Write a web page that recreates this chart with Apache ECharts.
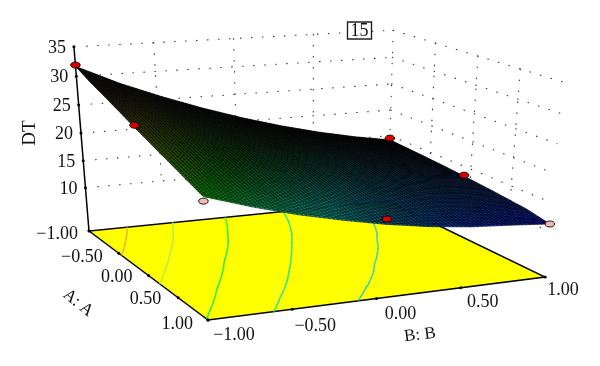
<!DOCTYPE html>
<html><head><meta charset="utf-8">
<style>html,body{margin:0;padding:0;background:#fff}#c{width:600px;height:366px}</style>
<script src="https://cdn.jsdelivr.net/npm/echarts@6/dist/echarts.min.js"></script>
</head><body><div id="c"></div>
<script>
// ---- data ----
const axisA = [-1,-0.75,-0.5,-0.25,0,0.25,0.5,0.75,1];
const axisB = [-1,-0.75,-0.5,-0.25,0,0.25,0.5,0.75,1];
// DT at each A (row) and B (column)
const rowAm100 = [31.70,28.33,25.49,22.92,20.62,18.59,16.84,15.36,14.15];
const rowAm075 = [30.28,27.29,24.57,22.13,19.95,18.05,16.42,15.07,13.98];
const rowAm050 = [29.07,26.20,23.61,21.29,19.24,17.46,15.96,14.73,13.77];
const rowAm025 = [27.82,25.08,22.61,20.42,18.49,16.84,15.46,14.36,13.52];
const rowA000  = [26.53,23.91,21.57,19.50,17.70,16.17,14.92,13.94,13.23];
const rowA025  = [25.30,22.80,20.60,18.65,16.95,15.50,14.34,13.49,12.90];
const rowA050  = [24.10,21.70,19.60,17.75,16.15,14.80,13.71,12.98,12.52];
const rowA075  = [22.90,20.60,18.55,16.80,15.30,14.05,13.05,12.45,12.11];
const rowA100  = [21.70,19.40,17.40,15.75,14.30,13.15,12.34,11.86,11.30];
const dtGrid = [rowAm100,rowAm075,rowAm050,rowAm025,rowA000,rowA025,rowA050,rowA075,rowA100];
const designA  = [-1,0,1,-1,0,1,1];
const designB  = [-1,-1,-1,1,1,1,0];
const designDT = [31.9,26.9,21.0,14.5,13.4,11.3,15.2];
const designAbove = [1,1,0,1,1,0,1];
const contourLevels = [28.5,25.2,21.8,18.5,15.2];
const contourColors = ['#f0a830','#b4ea50','#20e45c','#20dca0','#30c8c8'];
const tickA = [-1,-0.5,0,0.5,1];
const tickB = [-1,-0.5,0,0.5,1];
const tickZ = [10,15,20,25,30,35];
const labelsAB = ['\u22121.00','\u22120.50','0.00','0.50','1.00'];

// ---- view ----
const FONT = '"Liberation Serif"';
const Z0 = 1.8, K = -0.00195, VX = 307, VY = 2892;
function project(A,B,z){
  const u=(A+1)/2, v=(B+1)/2, kd=K*(z-Z0);
  const W=1-0.1523*u+0.0849*v;
  const X=87.32*u+331.94*v+89;
  const Y=40.26*u-12.94*v+231;
  return [(X+kd*VX)/(W+kd),(Y+kd*VY)/(W+kd)];
}
const lerp=(p,q,t)=>[p[0]+(q[0]-p[0])*t,p[1]+(q[1]-p[1])*t];
const leftWall =(t,z)=>lerp(project(-1,-1,z),project(-1,1,z),t);
const rightWall=(t,z)=>lerp(project(-1,1,z),project(1,1,z),t);
const edgeA=A=>lerp(project(-1,-1,Z0),project(1,-1,Z0),(A+1)/2);
const edgeB=B=>lerp(project(1,-1,Z0),project(1,1,Z0),(B+1)/2);

function dtAt(fi,fj){ // fi,fj in grid index units
  const i=Math.min(Math.floor(fi),dtGrid.length-2), j=Math.min(Math.floor(fj),dtGrid[0].length-2);
  const s=fi-i,t=fj-j;
  return (dtGrid[i][j]*(1-t)+dtGrid[i][j+1]*t)*(1-s)+(dtGrid[i+1][j]*(1-t)+dtGrid[i+1][j+1]*t)*s;
}
const stops=[[11.2,[0,0,255]],[16.4,[0,255,255]],[21.6,[0,255,0]],[26.8,[255,255,0]],[32,[255,0,0]]];
function colorOf(z,u){
  let c=stops[stops.length-1][1];
  if(z<=stops[0][0]) c=stops[0][1];
  else for(let k=0;k<stops.length-1;k++){
    if(z<=stops[k+1][0]){const t=(z-stops[k][0])/(stops[k+1][0]-stops[k][0]);
      c=stops[k][1].map((a,n)=>a+(stops[k+1][1][n]-a)*t);break;}
  }
  const sh=0.05+0.68*Math.pow(u,1.2);
  return 'rgb('+c.map(a=>Math.round(a*sh)).join(',')+')';
}
const SUB=10;
const coordPts=(api,pts)=>pts.map(p=>api.coord(p));

function renderLine(seg){return (params,api)=>{
  const d=seg[params.dataIndex];
  const a=api.coord(d.a),b=api.coord(d.b);
  return {type:'line',shape:{x1:a[0],y1:a[1],x2:b[0],y2:b[1]},style:{stroke:d.c||'#000',lineWidth:d.w||1.4,lineDash:d.dash||null,lineCap:d.dash?'round':'butt',fill:null}};
};}
// wall dotted grid
const wallSeg=[];
const dots={c:'#333',w:1.1,dash:[0.6,10.4]};
tickZ.forEach(z=>{
  wallSeg.push({a:leftWall(0.04,z),b:leftWall(1,z),...dots});
  wallSeg.push({a:rightWall(0,z),b:rightWall(1,z),...dots});
});
[0.25,0.5,0.75,1].forEach(t=>wallSeg.push({a:leftWall(t,35),b:leftWall(t,10),...dots}));
[0.25,0.5,0.75].forEach(t=>wallSeg.push({a:rightWall(t,35),b:rightWall(t,10),...dots}));
// contour segments
const contourSeg=[];
contourLevels.forEach((lv,li)=>{
  const n=(dtGrid.length-1)*SUB,m=(dtGrid[0].length-1)*SUB;
  const P=(fi,fj)=>project(-1+2*fi/(dtGrid.length-1),-1+2*fj/(dtGrid[0].length-1),Z0);
  for(let a=0;a<n;a++)for(let b=0;b<m;b++){
    const c=[[a,b],[a+1,b],[a+1,b+1],[a,b+1]].map(q=>[q[0]/SUB,q[1]/SUB]);
    const val=c.map(q=>dtAt(q[0],q[1])); const hit=[];
    for(let e=0;e<4;e++){const f=(e+1)%4;
      if((val[e]-lv)*(val[f]-lv)<0){const t=(lv-val[e])/(val[f]-val[e]);
        hit.push(P(c[e][0]+(c[f][0]-c[e][0])*t,c[e][1]+(c[f][1]-c[e][1])*t));}}
    if(hit.length>=2) contourSeg.push({a:hit[0],b:hit[1],c:contourColors[li],w:1.6});
  }
});
// surface cells
const cells=[];
for(let i=0;i<dtGrid.length-1;i++)for(let j=0;j<dtGrid[0].length-1;j++)cells.push([i,j]);
const nA=dtGrid.length-1,nB=dtGrid[0].length-1;
function renderCell(params,api){
  const i=api.value(0),j=api.value(1),kids=[];
  for(let a=0;a<SUB;a++)for(let b=0;b<SUB;b++){
    const corner=[[a,b],[a+1,b],[a+1,b+1],[a,b+1]].map(q=>{
      const fi=i+q[0]/SUB,fj=j+q[1]/SUB;
      return [fi,fj,dtAt(fi,fj)];
    });
    const pts=corner.map(q=>api.coord(project(-1+2*q[0]/nA,-1+2*q[1]/nB,q[2])));
    const zc=corner.reduce((s,q)=>s+q[2],0)/4;
    kids.push({type:'polygon',shape:{points:pts},style:{fill:colorOf(zc,(i+(a+0.5)/SUB)/nA),stroke:'#000',lineWidth:0.55}});
  }
  return {type:'group',children:kids};
}
// texts
const texts=[];
const T=(s,x,y,size,align,rot)=>texts.push({s,x,y,size,align,rot:rot||0});
tickZ.forEach(z=>{const p=project(-1,-1,z);T(String(z),p[0]-8,p[1]+1.5,18,'right');});
const offA=[[-11,3],[-16,4],[-16,2],[-17,2],[-15,4]];
const offB=[[26,15],[23,17],[24,16],[22,15],[18,13]];
tickA.forEach((A,n)=>{const p=edgeA(A);T(labelsAB[n],p[0]+offA[n][0],p[1]+offA[n][1],18,'right');});
tickB.forEach((B,n)=>{const p=edgeB(B);T(labelsAB[n],p[0]+offB[n][0],p[1]+offB[n][1],18,'center');});
T('DT',30,133,19,'center',Math.PI/2);
T('A: A',78,303,17,'center',-0.68);
T('B: B',420,335,17,'center',0.12);
T('15',359.5,31,18,'center');

const base={type:'custom',coordinateSystem:'cartesian2d',silent:true,animation:false,clip:false};
const ticksPts=[...tickA.map(edgeA),...tickB.map(edgeB),...tickZ.map(z=>project(-1,-1,z))];
const floorPts=[project(-1,-1,Z0),project(1,-1,Z0),project(1,1,Z0),project(-1,1,Z0)];
const chart=echarts.init(document.getElementById('c'),null,{renderer:'canvas'});
chart.setOption({
  animation:false,
  grid:{left:0,right:0,top:0,bottom:0},
  xAxis:{type:'value',min:0,max:600,show:false},
  yAxis:{type:'value',min:0,max:366,inverse:true,show:false},
  series:[
    {...base,name:'walls',z:1,data:wallSeg.map((s,i)=>[i,0]),renderItem:renderLine(wallSeg)},
    {...base,name:'floor',z:2,data:[[0,0]],renderItem:(p,api)=>({type:'polygon',shape:{points:coordPts(api,floorPts)},style:{fill:'#ffff00',stroke:'#000',lineWidth:1.5}})},
    {...base,name:'contours',z:3,data:contourSeg.map((s,i)=>[i,0]),renderItem:renderLine(contourSeg)},
    {...base,name:'zaxis',z:3,data:[[0,0]],renderItem:(p,api)=>{const a=api.coord(project(-1,-1,35)),b=api.coord(project(-1,-1,Z0));return {type:'line',shape:{x1:a[0],y1:a[1],x2:b[0],y2:b[1]},style:{stroke:'#000',lineWidth:1.5}};}},
    {...base,name:'ticks',z:4,data:ticksPts.map((s,i)=>[i,0]),renderItem:(p,api)=>{const c=api.coord(ticksPts[p.dataIndex]);return {type:'circle',shape:{cx:c[0],cy:c[1],r:1.5},style:{fill:'#000'}};}},
    {...base,name:'DT surface',z:5,data:cells,renderItem:renderCell},
    {...base,name:'design points',z:6,data:designDT.map((d,i)=>[designA[i],designB[i],d]),renderItem:(p,api)=>{
      const c=api.coord(project(api.value(0),api.value(1),api.value(2)));
      return {type:'ellipse',shape:{cx:c[0],cy:c[1],rx:4.8,ry:3},style:{fill:designAbove[p.dataIndex]?'#e00000':'#f4b8b0',stroke:'#000',lineWidth:0.9}};
    }},
    {...base,name:'box',z:7,data:[[0,0]],renderItem:(p,api)=>{const a=api.coord([347.5,22]),b=api.coord([371.5,39]);return {type:'rect',shape:{x:a[0],y:a[1],width:b[0]-a[0],height:b[1]-a[1]},style:{fill:'#fff',stroke:'#222',lineWidth:1.4}};}},
    {...base,name:'labels',z:8,data:texts.map((s,i)=>[i,0]),renderItem:(p,api)=>{
      const d=texts[p.dataIndex],c=api.coord([d.x,d.y]);
      return {type:'text',x:c[0],y:c[1],rotation:d.rot,style:{text:d.s,x:0,y:0,fill:'#111',font:d.size+'px '+FONT,textAlign:d.align,textVerticalAlign:'middle'}};
    }}
  ]
});
</script></body></html>
